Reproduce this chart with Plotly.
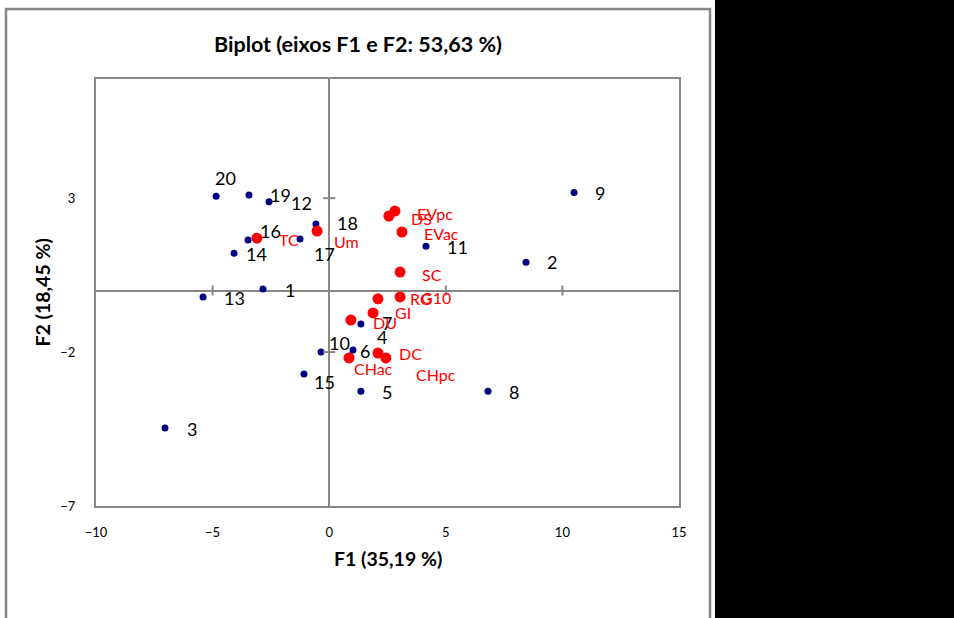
import plotly.graph_objects as go

# ---- data ----
obs_labels = ["1", "2", "3", "4", "5", "6", "7", "8", "9", "10",
              "11", "12", "13", "14", "15", "16", "17", "18", "19", "20"]
obs_f1 = [-2.84, 8.44, -7.04, 1.02, 1.36, 0.89, 1.36, 6.81, 10.50, -0.35,
          4.15, -2.58, -5.41, -4.08, -1.08, -3.48, -1.25, -0.57, -3.44, -4.85]
obs_f2 = [0.05, 0.92, -4.47, -1.93, -3.27, -2.13, -1.09, -3.27, 3.18, -2.00,
          1.44, 2.88, -0.21, 1.21, -2.71, 1.64, 1.67, 2.16, 3.10, 3.06]

var_labels = ["EVpc", "DS", "EVac", "SC", "G10", "RG", "GI", "DU", "DC", "CHpc", "CHac", "TC", "Um"]
var_f1 = [2.82, 2.56, 3.12, 3.04, 3.04, 2.09, 1.88, 0.93, 2.09, 2.43, 0.85, -3.10, -0.52]
var_f2 = [2.58, 2.42, 1.90, 0.60, -0.21, -0.27, -0.73, -0.96, -2.03, -2.19, -2.19, 1.70, 1.93]

x_ticks = [-10, -5, 0, 5, 10, 15]
y_ticks = [-7, -2, 3]
x_range = [-10, 15]
y_range = [-7, 6.87]

title_text = "Biplot (eixos F1 e F2: 53,63 %)"
x_title = "F1 (35,19 %)"
y_title = "F2 (18,45 %)"

# label offsets in pixels (dx = left edge from point, dy = downwards)
obs_offsets = [(20, 1), (19, 0), (20, 1), (22, -13), (19, 1), (8, -5), (19, -1), (19, 1),
               (19, 0), (6, -9), (19, 1), (20, 1), (19, 1), (10, 1), (8, 8), (10, -9),
               (12, 15), (19, -1), (19, 0), (-3, -18)]
var_offsets = [(20, 2), (20, 2), (20, 1), (20, 2), (19, 1), (30, 0), (20, 0), (20, 2),
               (19, 1), (28, 17), (3, 11), (20, 1), (15, 10)]

FONT = "Lato"
GRAY = "#878787"

fig = go.Figure()
fig.add_trace(go.Scatter(x=obs_f1, y=obs_f2, mode="markers",
                         marker=dict(color="#000080", size=7), hoverinfo="skip"))
fig.add_trace(go.Scatter(x=var_f1, y=var_f2, mode="markers",
                         marker=dict(color="#FF0000", size=11), hoverinfo="skip"))

annotations = []
for lab, x, y, (dx, dy) in zip(obs_labels, obs_f1, obs_f2, obs_offsets):
    annotations.append(dict(x=x, y=y, xref="x", yref="y", text=lab, showarrow=False,
                            xanchor="left", yanchor="middle", xshift=dx, yshift=-dy,
                            font=dict(family=FONT, size=18, color="black")))
for lab, x, y, (dx, dy) in zip(var_labels, var_f1, var_f2, var_offsets):
    annotations.append(dict(x=x, y=y, xref="x", yref="y", text=lab, showarrow=False,
                            xanchor="left", yanchor="middle", xshift=dx, yshift=-dy,
                            font=dict(family=FONT, size=16, color="#FF0000")))

# plot area geometry (pixels)
L, R, T, B = 96, 679, 79, 506
W, H = 954, 618
pw, ph = R - L, B - T
def px(xp):
    return (xp - L) / pw
def py(yp):
    return (B - yp) / ph

annotations.append(dict(x=px(358), y=py(44), xref="paper", yref="paper", text="<b>" + title_text + "</b>",
                        showarrow=False, xanchor="center", yanchor="middle",
                        font=dict(family=FONT, size=21.5, color="black")))
annotations.append(dict(x=0.5, y=py(558), xref="paper", yref="paper", text="<b>" + x_title + "</b>",
                        showarrow=False, xanchor="center", yanchor="middle",
                        font=dict(family=FONT, size=19.5, color="black")))
annotations.append(dict(x=px(42), y=0.5, xref="paper", yref="paper", text="<b>" + y_title + "</b>",
                        showarrow=False, xanchor="center", yanchor="middle", textangle=-90,
                        font=dict(family=FONT, size=19.5, color="black")))

shapes = []
# tick marks crossing the zero axes
for t in x_ticks:
    if t in (x_range[0], x_range[1], 0):
        continue
    shapes.append(dict(type="line", xref="x", yref="y", x0=t, x1=t, ysizemode="pixel",
                       yanchor=0, y0=-5, y1=5, line=dict(color=GRAY, width=2)))
for t in y_ticks:
    if t in (y_range[0], 0):
        continue
    shapes.append(dict(type="line", xref="x", yref="y", y0=t, y1=t, xsizemode="pixel",
                       xanchor=0, x0=-6, x1=6, line=dict(color=GRAY, width=2)))
# outer chart border
shapes.append(dict(type="rect", xref="paper", yref="paper", x0=px(6), x1=px(710),
                   y0=py(700), y1=py(9), line=dict(color=GRAY, width=2.5), layer="below"))
# black panel on the right
shapes.append(dict(type="rect", xref="paper", yref="paper", x0=px(715), x1=px(1000),
                   y0=py(700), y1=py(-50), fillcolor="black", line=dict(width=0)))

fig.update_layout(
    width=W, height=H,
    margin=dict(l=L, r=W - R, t=T, b=H - B),
    paper_bgcolor="white", plot_bgcolor="white",
    showlegend=False,
    annotations=annotations,
    shapes=shapes,
)
fig.update_xaxes(range=x_range, tickvals=x_ticks, showgrid=False,
                 zeroline=True, zerolinecolor=GRAY, zerolinewidth=2,
                 showline=True, mirror=True, linecolor=GRAY, linewidth=2,
                 ticks="outside", ticklen=13, tickcolor="rgba(0,0,0,0)",
                 tickfont=dict(family=FONT, size=13, color="black"))
fig.update_yaxes(range=y_range, tickvals=y_ticks, showgrid=False,
                 zeroline=True, zerolinecolor=GRAY, zerolinewidth=2,
                 showline=True, mirror=True, linecolor=GRAY, linewidth=2,
                 ticks="outside", ticklen=16, tickcolor="rgba(0,0,0,0)",
                 tickfont=dict(family=FONT, size=13, color="black"))

fig.write_html("out.html", config={"displayModeBar": False},
               post_script="document.body.style.margin='0';document.body.style.overflow='hidden';")
